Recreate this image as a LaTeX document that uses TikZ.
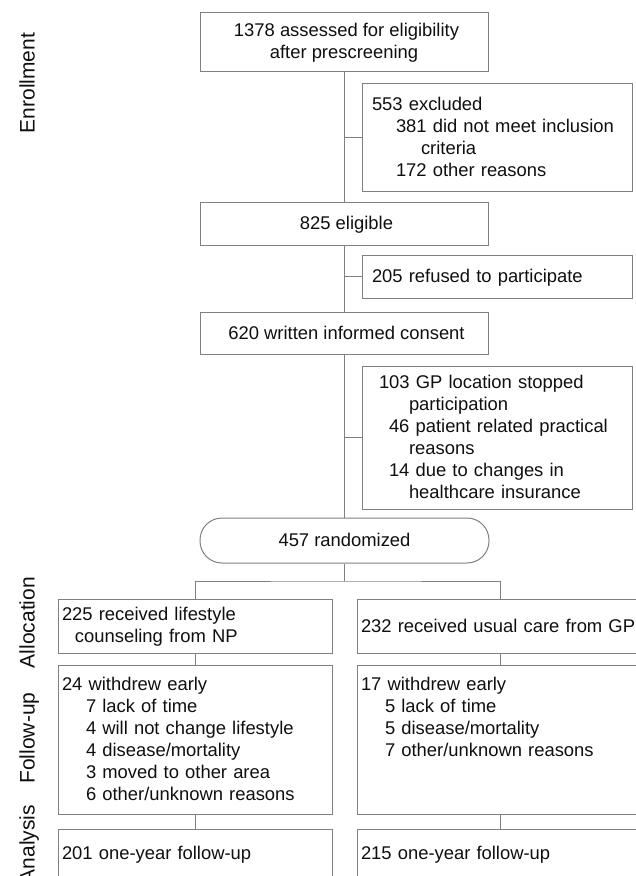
\documentclass[tikz,border=0pt]{standalone}
\usepackage{fontspec}
\setmainfont{Liberation Sans}
\definecolor{linegray}{RGB}{128,128,128}
\definecolor{txt}{RGB}{15,15,15}
\newcommand\fs{\fontsize{18.4}{22}\selectfont}
\newcommand\Tstr{\rule{0pt}{15pt}}
\newcommand\Bstr{\rule[-2.1pt]{0pt}{2.1pt}}
\tikzset{
  box/.style={draw=linegray, line width=1pt, inner sep=0pt, font=\fs, text=txt},
  cbox/.style={box, minimum width=288pt, align=center},
  sidebox/.style={box, minimum width=270pt, text width=250pt, align=left},
  lbox/.style={box, minimum width=274pt, text width=266pt, align=left},
  rbox/.style={box, minimum width=286pt, text width=278pt, align=left},
  conn/.style={draw=linegray, line width=1pt},
  lab/.style={rotate=90, font=\fontsize{21}{25}\selectfont, text=txt, inner sep=0pt, text height=15pt, text depth=0pt}
}
\begin{document}
\begin{tikzpicture}[x=1pt, y=-1pt]
\useasboundingbox (0,0) rectangle (636,876);
\clip (0,0) rectangle (636,876);

% stage labels
\node[lab] (enr) at (27,83) {Enrollment};
\node[lab] (alloc) at (27,622.5) {Allocation};
\node[lab] (fup) at (27,738) {Follow-up};
\node[lab] (ana) at (27,844) {Analysis};

% enrollment column
\node[cbox, minimum height=59pt] (a) at (344,41.5) {\Tstr\hspace*{5pt}1378 assessed for eligibility\\after prescreening\Bstr};
\node[sidebox, minimum height=108pt] (ex1) at (497,137) {\Tstr 553 excluded\\\hspace*{24pt}381 did not meet inclusion\\\hspace*{49pt}criteria\\\hspace*{24pt}172 other reasons\Bstr};
\node[cbox, minimum height=43pt] (b) at (344,223.5) {\Tstr\hspace*{5pt}825 eligible\Bstr};
\node[sidebox, minimum height=43pt] (ref) at (497,276.5) {\Tstr 205 refused to participate\Bstr};
\node[cbox, minimum height=42pt] (c) at (344,333) {\Tstr\hspace*{5pt}620 written informed consent\Bstr};
\node[sidebox, minimum height=143pt] (ex2) at (497,437.5) {\Tstr\hspace*{7pt}103 GP location stopped\\\hspace*{37pt}participation\\\hspace*{17pt}46 patient related practical\\\hspace*{37pt}reasons\\\hspace*{17pt}14 due to changes in\\\hspace*{37pt}healthcare insurance\Bstr};
\node[box, minimum width=289pt, minimum height=45pt, rounded corners=22pt, align=center] (rnd) at (344.5,540.5) {\Tstr 457 randomized\Bstr};

% arms
\node[lbox, minimum height=54pt] (l1) at (195,626) {\Tstr 225 received lifestyle\\\hspace*{13pt}counseling from NP\Bstr};
\node[rbox, minimum height=54pt] (r1) at (500,626) {\Tstr 232 received usual care from GP\Bstr};
\node[lbox, minimum height=149pt] (l2) at (195,739.5) {\Tstr 24 withdrew early\\\hspace*{24pt}7 lack of time\\\hspace*{24pt}4 will not change lifestyle\\\hspace*{24pt}4 disease/mortality\\\hspace*{24pt}3 moved to other area\\\hspace*{24pt}6 other/unknown reasons\Bstr};
\node[rbox, minimum height=149pt] (r2) at (500,739.5) {\Tstr 17 withdrew early\\\hspace*{24pt}5 lack of time\\\hspace*{24pt}5 disease/mortality\\\hspace*{24pt}7 other/unknown reasons\\\mbox{}\\\mbox{}\Bstr};
\node[lbox, minimum height=49pt] (l3) at (195,853.5) {\Tstr 201 one-year follow-up\Bstr};
\node[rbox, minimum height=49pt] (r3) at (500,853.5) {\Tstr 215 one-year follow-up\Bstr};

% connectors
\draw[conn] (a.south) -- (b.north);
\draw[conn] (a.south |- ex1.west) -- (ex1.west);
\draw[conn] (b.south) -- (c.north);
\draw[conn] (b.south |- ref.west) -- (ref.west);
\draw[conn] (c.south) -- (c.south |- rnd.north);
\draw[conn] (c.south |- ex2.west) -- (ex2.west);
\coordinate (split) at (344,581);
\draw[conn] (rnd.south -| split) -- (split);
\draw[conn] (l1.north) |- (split) -| (r1.north);
\draw[conn] (l1.south) -- (l2.north);
\draw[conn] (l2.south) -- (l3.north);
\draw[conn] (r1.south) -- (r2.north);
\draw[conn] (r2.south) -- (r3.north);
\end{tikzpicture}
\end{document}
